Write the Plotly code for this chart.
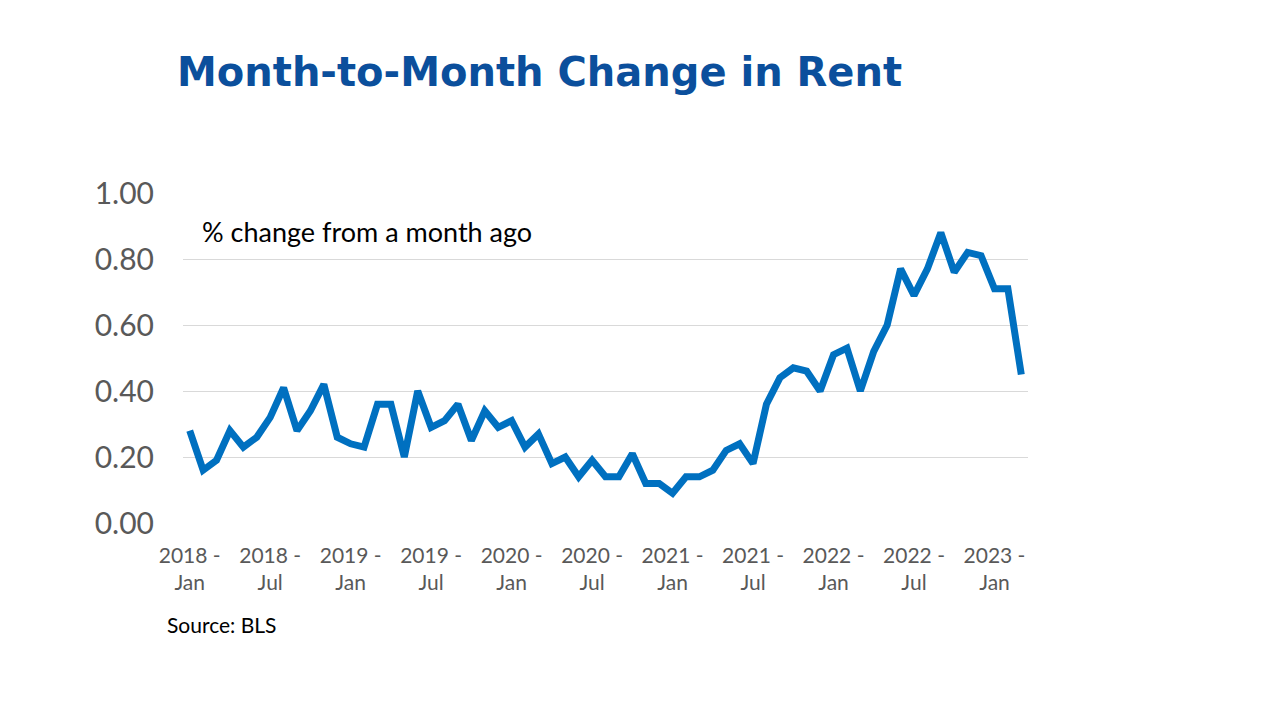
import plotly.graph_objects as go


# ==========================================
# DATA
# ==========================================

years = ["2018", "2019", "2020", "2021", "2022", "2023"]
month_names = ["Jan", "Feb", "Mar", "Apr", "May", "Jun",
               "Jul", "Aug", "Sep", "Oct", "Nov", "Dec"]

rent_2018 = [0.28, 0.16, 0.19, 0.28, 0.23, 0.26, 0.32, 0.41, 0.28, 0.34, 0.42, 0.26]
rent_2019 = [0.24, 0.23, 0.36, 0.36, 0.20, 0.40, 0.29, 0.31, 0.36, 0.25, 0.34, 0.29]
rent_2020 = [0.31, 0.23, 0.27, 0.18, 0.20, 0.14, 0.19, 0.14, 0.14, 0.21, 0.12, 0.12]
rent_2021 = [0.09, 0.14, 0.14, 0.16, 0.22, 0.24, 0.18, 0.36, 0.44, 0.47, 0.46, 0.40]
rent_2022 = [0.51, 0.53, 0.40, 0.52, 0.60, 0.77, 0.69, 0.77, 0.88, 0.76, 0.82, 0.81]
rent_2023 = [0.71, 0.71, 0.45]

y_ticks = [0.0, 0.2, 0.4, 0.6, 0.8, 1.0]


# ==========================================
# BUILD SERIES
# ==========================================

values = rent_2018 + rent_2019 + rent_2020 + rent_2021 + rent_2022 + rent_2023

labels = []
for yr in years:
    for m in month_names:
        labels.append(f"{yr} - {m}")
labels = labels[:len(values)]

idx = list(range(len(values)))

tick_vals = idx[::6]
tick_text = [
    labels[i].split(" - ")[0] + " -<br>" + labels[i].split(" - ")[1]
    for i in tick_vals
]


# ==========================================
# CREATE FIGURE
# ==========================================

# page body adds an 8px offset, so margins are shifted a little
fig = go.Figure()

fig.add_trace(
    go.Scatter(
        x=idx,
        y=values,
        mode="lines",
        line=dict(color="#0070C0", width=7),
        text=labels,
        hovertemplate="%{text}: %{y:.2f}<extra></extra>"
    )
)

fig.update_layout(
    width=1280,
    height=720,
    paper_bgcolor="white",
    plot_bgcolor="white",
    showlegend=False,
    margin=dict(l=175, r=260, t=185, b=205),
    font=dict(family="Lato, 'Noto Sans', sans-serif", color="#595959"),
    title=dict(
        text="<b>Month-to-Month Change in Rent</b>",
        font=dict(family="'DejaVu Sans', sans-serif", size=40, color="#0B4F9C"),
        x=169 / 1280,
        xanchor="left",
        y=1 - 64 / 720,
        yanchor="middle"
    )
)

fig.update_xaxes(
    range=[-0.5, len(values) - 0.5],
    tickmode="array",
    tickvals=tick_vals,
    ticktext=tick_text,
    tickfont=dict(size=21, color="#595959"),
    showgrid=False,
    zeroline=False,
    showline=False,
    ticks="",
    ticklabelstandoff=18
)

fig.update_yaxes(
    range=[0, 1.0],
    tickmode="array",
    tickvals=y_ticks,
    tickformat=".2f",
    tickfont=dict(size=30, color="#595959"),
    gridcolor="#D9D9D9",
    gridwidth=1,
    zeroline=False,
    showline=False,
    ticks="",
    ticklabelstandoff=28
)

fig.add_annotation(
    text="% change from a month ago",
    xref="paper", yref="paper",
    x=(200 - 183) / 845, y=1 - (231 - 193) / 330,
    xanchor="left", yanchor="middle",
    showarrow=False,
    font=dict(size=27, color="#000000")
)

fig.add_annotation(
    text="Source: BLS",
    xref="paper", yref="paper",
    x=(165 - 183) / 845, y=-(624 - 523) / 330,
    xanchor="left", yanchor="middle",
    showarrow=False,
    font=dict(size=21, color="#000000")
)

fig.write_html("out.html")
